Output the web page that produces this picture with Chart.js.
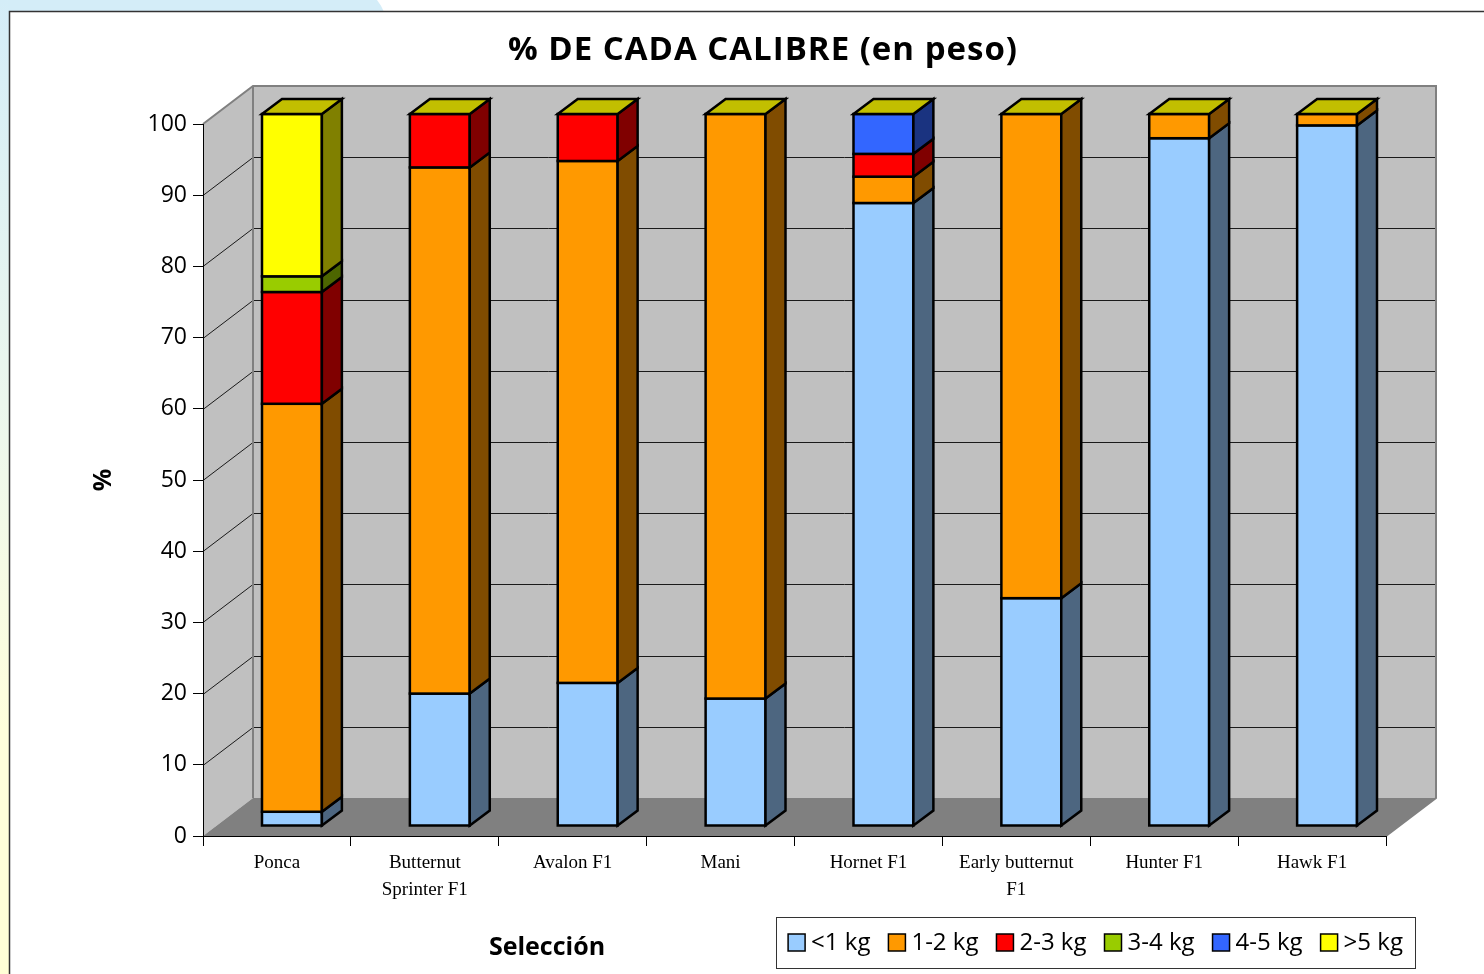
<!DOCTYPE html>
<html lang="es">
<head>
<meta charset="UTF-8">
<title>% de cada calibre (en peso)</title>
<style>
  html, body { margin: 0; padding: 0; background: #fff; }
  canvas { display: block; }
</style>
</head>
<body>
<canvas id="chart" width="1484" height="974"></canvas>
<script src="https://cdn.jsdelivr.net/npm/chart.js"></script>
<script>
// Datos (% en peso de cada calibre)
const variedades = ['Ponca', ['Butternut', 'Sprinter F1'], 'Avalon F1', 'Mani', 'Hornet F1', ['Early butternut', 'F1'], 'Hunter F1', 'Hawk F1'];
const calibres = ['<1 kg', '1-2 kg', '2-3 kg', '3-4 kg', '4-5 kg', '>5 kg'];
const menos1kg = [2.0, 18.6, 20.1, 17.9, 87.5, 32.0, 96.6, 98.4];
const de1a2kg  = [57.3, 73.9, 73.3, 82.1, 3.7, 68.0, 3.4, 1.6];
const de2a3kg  = [15.7, 7.5, 6.6, 0, 3.2, 0, 0, 0];
const de3a4kg  = [2.2, 0, 0, 0, 0, 0, 0, 0];
const de4a5kg  = [0, 0, 0, 0, 5.6, 0, 0, 0];
const mas5kg   = [22.8, 0, 0, 0, 0, 0, 0, 0];
const yMin = 0, yMax = 100, yPaso = 10;

// colores: cara frontal, cara lateral (sombra)
const colFrente = ['#99ccff', '#ff9900', '#ff0000', '#99cc00', '#3366ff', '#ffff00'];
const colLado   = ['#4d6680', '#804c00', '#800000', '#4d6600', '#1a3380', '#808000'];
const colTecho  = '#c2bf00';

// perspectiva
const PROF_X = 50, PROF_Y = -38;     // fondo del grafico
const BARRA_X = 15, BARRA_Y = -10;   // posicion de la barra dentro
const CUBO_X = 20, CUBO_Y = -15;     // grosor de la barra

const series = [menos1kg, de1a2kg, de2a3kg, de3a4kg, de4a5kg, mas5kg];

const fondo = {
  id: 'fondo',
  beforeDraw(chart) {
    const ctx = chart.ctx;
    const W = chart.width, H = chart.height;
    ctx.save();
    ctx.fillStyle = '#ffffff';
    ctx.fillRect(0, 0, W, H);
    // franja azul arriba a la izquierda
    ctx.fillStyle = '#d4edf8';
    ctx.beginPath();
    ctx.moveTo(0, 0);
    ctx.lineTo(377, 0);
    ctx.quadraticCurveTo(381, 5, 384, 12);
    ctx.lineTo(0, 12);
    ctx.closePath();
    ctx.fill();
    // franja izquierda azul -> amarillo
    const g = ctx.createLinearGradient(0, 0, 0, H);
    g.addColorStop(0, '#d4edf8');
    g.addColorStop(0.45, '#eef8ec');
    g.addColorStop(0.75, '#ffffdc');
    g.addColorStop(1, '#ffffd6');
    ctx.fillStyle = g;
    ctx.fillRect(0, 0, 9, H);
    // marco blanco
    ctx.fillStyle = '#ffffff';
    ctx.fillRect(9, 11, W, H);
    ctx.strokeStyle = '#333333';
    ctx.lineWidth = 1.5;
    ctx.beginPath();
    ctx.moveTo(9.5, H + 2);
    ctx.lineTo(9.5, 11.5);
    ctx.lineTo(W + 2, 11.5);
    ctx.stroke();

    // paredes 3D
    const a = chart.chartArea;
    const y = chart.scales.y;
    const y0 = y.getPixelForValue(yMin), y1 = y.getPixelForValue(yMax);
    ctx.lineJoin = 'miter';
    // pared izquierda
    ctx.fillStyle = '#c0c0c0';
    ctx.beginPath();
    ctx.moveTo(a.left, y0);
    ctx.lineTo(a.left, y1);
    ctx.lineTo(a.left + PROF_X, y1 + PROF_Y);
    ctx.lineTo(a.left + PROF_X, y0 + PROF_Y);
    ctx.closePath();
    ctx.fill();
    // pared del fondo
    ctx.fillRect(a.left + PROF_X, y1 + PROF_Y, a.right - a.left, y0 - y1);
    // suelo
    ctx.fillStyle = '#808080';
    ctx.beginPath();
    ctx.moveTo(a.left, y0);
    ctx.lineTo(a.left + PROF_X, y0 + PROF_Y);
    ctx.lineTo(a.right + PROF_X, y0 + PROF_Y);
    ctx.lineTo(a.right, y0);
    ctx.closePath();
    ctx.fill();
    // lineas de division
    ctx.strokeStyle = '#1a1a1a';
    ctx.lineWidth = 1;
    for (let v = yMin + yPaso; v <= yMax - yPaso; v += yPaso) {
      const py = Math.round(y.getPixelForValue(v)) + 0.5;
      ctx.beginPath();
      ctx.moveTo(a.left, py);
      ctx.lineTo(a.left + PROF_X, py + PROF_Y);
      ctx.lineTo(a.right + PROF_X, py + PROF_Y);
      ctx.stroke();
    }
    // bordes de las paredes
    ctx.strokeStyle = '#808080';
    ctx.lineWidth = 2;
    ctx.beginPath();
    ctx.moveTo(a.left, y1);
    ctx.lineTo(a.left + PROF_X, y1 + PROF_Y);
    ctx.lineTo(a.right + PROF_X, y1 + PROF_Y);
    ctx.lineTo(a.right + PROF_X, y0 + PROF_Y);
    ctx.lineTo(a.right, y0);
    ctx.moveTo(a.left + PROF_X, y1 + PROF_Y);
    ctx.lineTo(a.left + PROF_X, y0 + PROF_Y);
    ctx.stroke();
    ctx.restore();
  }
};

const cubos = {
  id: 'cubos',
  beforeDatasetsDraw(chart) {
    const ctx = chart.ctx;
    ctx.save();
    ctx.lineWidth = 2.5;
    ctx.strokeStyle = '#000000';
    ctx.lineJoin = 'miter';
    const n = chart.data.labels.length;
    for (let i = 0; i < n; i++) {
      let ultimo = -1;
      chart.data.datasets.forEach((ds, d) => { if (ds.data[i] > 0) ultimo = d; });
      chart.data.datasets.forEach((ds, d) => {
        if (!(ds.data[i] > 0)) return;
        const el = chart.getDatasetMeta(d).data[i];
        const p = el.getProps(['x', 'y', 'base', 'width'], true);
        const xl = p.x - p.width / 2 + BARRA_X, xr = p.x + p.width / 2 + BARRA_X;
        const yt = p.y + BARRA_Y, yb = p.base + BARRA_Y;
        // frente
        ctx.fillStyle = colFrente[d];
        ctx.fillRect(xl, yt, xr - xl, yb - yt);
        ctx.strokeRect(xl, yt, xr - xl, yb - yt);
        // lado
        ctx.fillStyle = colLado[d];
        ctx.beginPath();
        ctx.moveTo(xr, yt);
        ctx.lineTo(xr + CUBO_X, yt + CUBO_Y);
        ctx.lineTo(xr + CUBO_X, yb + CUBO_Y);
        ctx.lineTo(xr, yb);
        ctx.closePath();
        ctx.fill();
        ctx.stroke();
        // techo
        if (d === ultimo) {
          ctx.fillStyle = colTecho;
          ctx.beginPath();
          ctx.moveTo(xl, yt);
          ctx.lineTo(xl + CUBO_X, yt + CUBO_Y);
          ctx.lineTo(xr + CUBO_X, yt + CUBO_Y);
          ctx.lineTo(xr, yt);
          ctx.closePath();
          ctx.fill();
          ctx.stroke();
        }
      });
    }
    ctx.restore();
    return false;
  }
};

const textos = {
  id: 'textos',
  afterDraw(chart) {
    const ctx = chart.ctx;
    ctx.save();
    ctx.fillStyle = '#000';
    ctx.textBaseline = 'middle';
    ctx.textAlign = 'center';
    ctx.font = 'bold 33px "Open Sans"';
    ctx.letterSpacing = '1px';
    ctx.fillText('% DE CADA CALIBRE (en peso)', 763, 51);
    ctx.letterSpacing = '0px';
    ctx.font = 'bold 25px "Open Sans"';
    ctx.fillText('Selección', 547, 948);
    ctx.save();
    ctx.translate(104, 480);
    ctx.rotate(-Math.PI / 2);
    ctx.fillText('%', 0, 0);
    ctx.restore();

    // leyenda
    ctx.font = '24px "Open Sans"';
    ctx.textAlign = 'left';
    const cx = 776, cy = 917, cw = 639, ch = 51;
    ctx.fillStyle = '#fff';
    ctx.fillRect(cx, cy, cw, ch);
    ctx.strokeStyle = '#333';
    ctx.lineWidth = 1;
    ctx.strokeRect(cx + 0.5, cy + 0.5, cw, ch);
    const caja = 17, sep = 6, hueco = 18;
    let total = 0;
    chart.data.datasets.forEach(ds => { total += caja + sep + ctx.measureText(ds.label).width + hueco; });
    total -= hueco;
    let x = cx + (cw - total) / 2;
    const my = cy + ch / 2;
    chart.data.datasets.forEach((ds, d) => {
      ctx.fillStyle = colFrente[d];
      ctx.fillRect(x, my - caja / 2, caja, caja);
      ctx.strokeStyle = '#000';
      ctx.lineWidth = 1.5;
      ctx.strokeRect(x, my - caja / 2, caja, caja);
      ctx.fillStyle = '#000';
      ctx.fillText(ds.label, x + caja + sep, my + 1);
      x += caja + sep + ctx.measureText(ds.label).width + hueco;
    });
    ctx.restore();
  }
};

new Chart(document.getElementById('chart'), {
  type: 'bar',
  data: {
    labels: variedades,
    datasets: calibres.map((c, d) => ({
      label: c,
      data: series[d],
      backgroundColor: colFrente[d],
      borderColor: '#000',
      borderWidth: 2
    }))
  },
  options: {
    responsive: false,
    animation: false,
    devicePixelRatio: 1,
    layout: { padding: { top: 124, left: 0, right: 98, bottom: 58 } },
    datasets: { bar: { categoryPercentage: 1, barPercentage: 0.405 } },
    plugins: {
      legend: { display: false },
      title: { display: false },
      tooltip: { enabled: false }
    },
    scales: {
      x: {
        stacked: true,
        afterFit(s) { s.height = 80; },
        grid: { offset: true, drawOnChartArea: false, drawTicks: true, tickLength: 10, color: '#000' },
        border: { color: '#000', width: 1 },
        ticks: {
          autoSkip: false, maxRotation: 0, color: '#000', padding: 4,
          font: { family: '"Liberation Serif"', size: 19, lineHeight: 1.42 }
        }
      },
      y: {
        stacked: true,
        min: yMin, max: yMax,
        afterFit(s) { s.width = 203; },
        grid: { drawOnChartArea: false, drawTicks: true, tickLength: 10, color: '#000' },
        border: { color: '#000', width: 1 },
        ticks: {
          stepSize: yPaso, color: '#000', padding: 6,
          font: { family: '"Open Sans"', size: 23 }
        }
      }
    }
  },
  plugins: [fondo, cubos, textos]
});
</script>
</body>
</html>
